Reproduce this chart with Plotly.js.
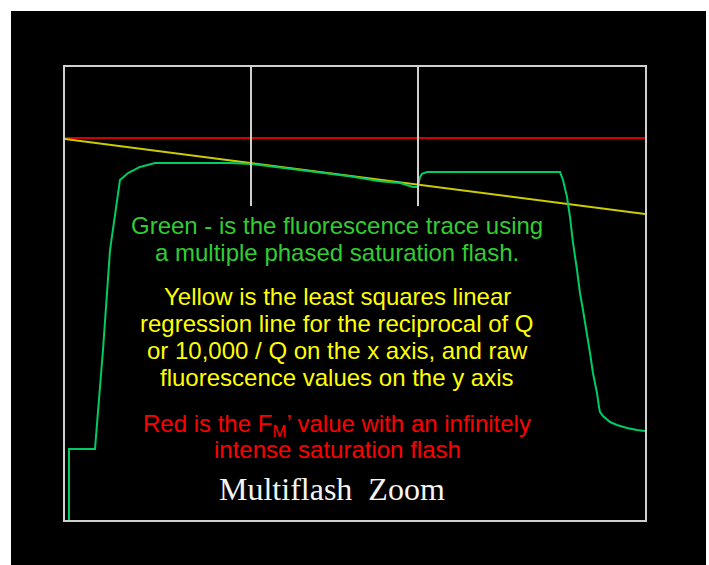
<!DOCTYPE html>
<html>
<head>
<meta charset="utf-8">
<script src="https://cdn.plot.ly/plotly-3.0.1.min.js"></script>
<style>
  html, body { margin: 0; padding: 0; background: #ffffff; width: 709px; height: 565px; overflow: hidden; }
  #chart { position: absolute; left: 11px; top: 11px; width: 695px; height: 554px; }
</style>
</head>
<body>
<div id="chart"></div>
<script>
// Time axis (arbitrary units, 0..1000) and fluorescence axis (arbitrary units, 0..1000)
const greenX = [6.9, 6.9, 51.7, 65.5, 77.6, 89.7, 94.8, 108.6, 129.3, 155.2, 284.5, 320.7,
                405, 491, 543, 578, 600, 608.6, 612, 615.5, 624, 638, 853.4, 858.6, 865.5,
                870.7, 875.9, 882.8, 887.9, 893.1, 900, 905.2, 910.3, 917.2, 920.7, 922.4,
                927.6, 939.7, 951.7, 969, 986.2, 1000];
const greenY = [0, 156.7, 156.7, 375.3, 596, 706.4, 750.6, 766, 779.3, 788.1, 788.1, 786,
                773, 759, 748, 744, 735, 735, 757, 764, 768.2, 768.2, 768.2, 750.6, 713,
                668.9, 611.5, 551.9, 501.1, 463.6, 412.8, 368.7, 324.5, 280.4, 249.4, 238.4,
                229.6, 216.3, 209.7, 203.1, 198.7, 196.5];
const yellowX = [0, 1000];
const yellowY = [841, 675.5];
const redX = [0, 1000];
const redY = [843, 843];
const phaseX = [320.7, 608.6];        // phase boundaries (vertical markers)
const phaseMarkY = [693, 1000];

const greenLines = ['Green - is the fluorescence trace using', 'a multiple phased saturation flash.'];
const yellowLines = ['Yellow is the least squares linear', 'regression line for the reciprocal of Q',
                     'or 10,000 / Q on the x axis, and raw', 'fluorescence values on the y axis'];
const redLines = ['Red is the F<sub>M</sub>’ value with an infinitely', 'intense saturation flash'];
const titleText = 'Multiflash  Zoom';

const greenTextY = [651.2, 591.6];
const yellowTextY = [492.3, 432.7, 373.1, 313.5];
const redTextY = [216.3, 156.7];
const titleTextY = 68.4;

const data = [
  { x: redX, y: redY, mode: 'lines', line: { color: '#d40000', width: 2 }, hoverinfo: 'skip' },
  { x: yellowX, y: yellowY, mode: 'lines', line: { color: '#cccc00', width: 2 }, hoverinfo: 'skip' },
  { x: greenX, y: greenY, mode: 'lines', line: { color: '#00cc66', width: 2 }, hoverinfo: 'skip' }
];

const shapes = phaseX.map(px => ({
  type: 'line', xref: 'x', yref: 'y', x0: px, x1: px, y0: phaseMarkY[0], y1: phaseMarkY[1],
  line: { color: '#d0d0d0', width: 2 }
}));

const sans = 'Liberation Sans, Arial, sans-serif';
const annotations = [];
function addLines(lines, ys, color, extra) {
  lines.forEach((t, i) => annotations.push(Object.assign({
    x: 469, y: ys[i], xref: 'x', yref: 'y', showarrow: false, text: t,
    font: { family: sans, size: 24, color: color }
  }, (extra && extra[i]) || {})));
}
addLines(greenLines, greenTextY, '#33cc33');
addLines(yellowLines, yellowTextY, '#ffff00');
addLines(redLines, redTextY, '#ff0000', [{ yshift: -3 }]);
annotations.push({
  x: 460, y: titleTextY, xref: 'x', yref: 'y', showarrow: false, text: titleText,
  font: { family: 'Liberation Serif, Times New Roman, serif', size: 32, color: '#f4f4f4' }
});

const axisCommon = {
  showgrid: false, zeroline: false, showticklabels: false, ticks: '',
  showline: true, mirror: true, linecolor: '#d0d0d0', linewidth: 2, fixedrange: true
};

const layout = {
  width: 695, height: 554,
  margin: { l: 54, r: 61, t: 56, b: 45 },
  paper_bgcolor: '#000000', plot_bgcolor: '#000000',
  showlegend: false,
  xaxis: Object.assign({ range: [0, 1000] }, axisCommon),
  yaxis: Object.assign({ range: [0, 1000] }, axisCommon),
  shapes: shapes,
  annotations: annotations
};

Plotly.newPlot('chart', data, layout, { displayModeBar: false, staticPlot: true });
</script>
</body>
</html>
